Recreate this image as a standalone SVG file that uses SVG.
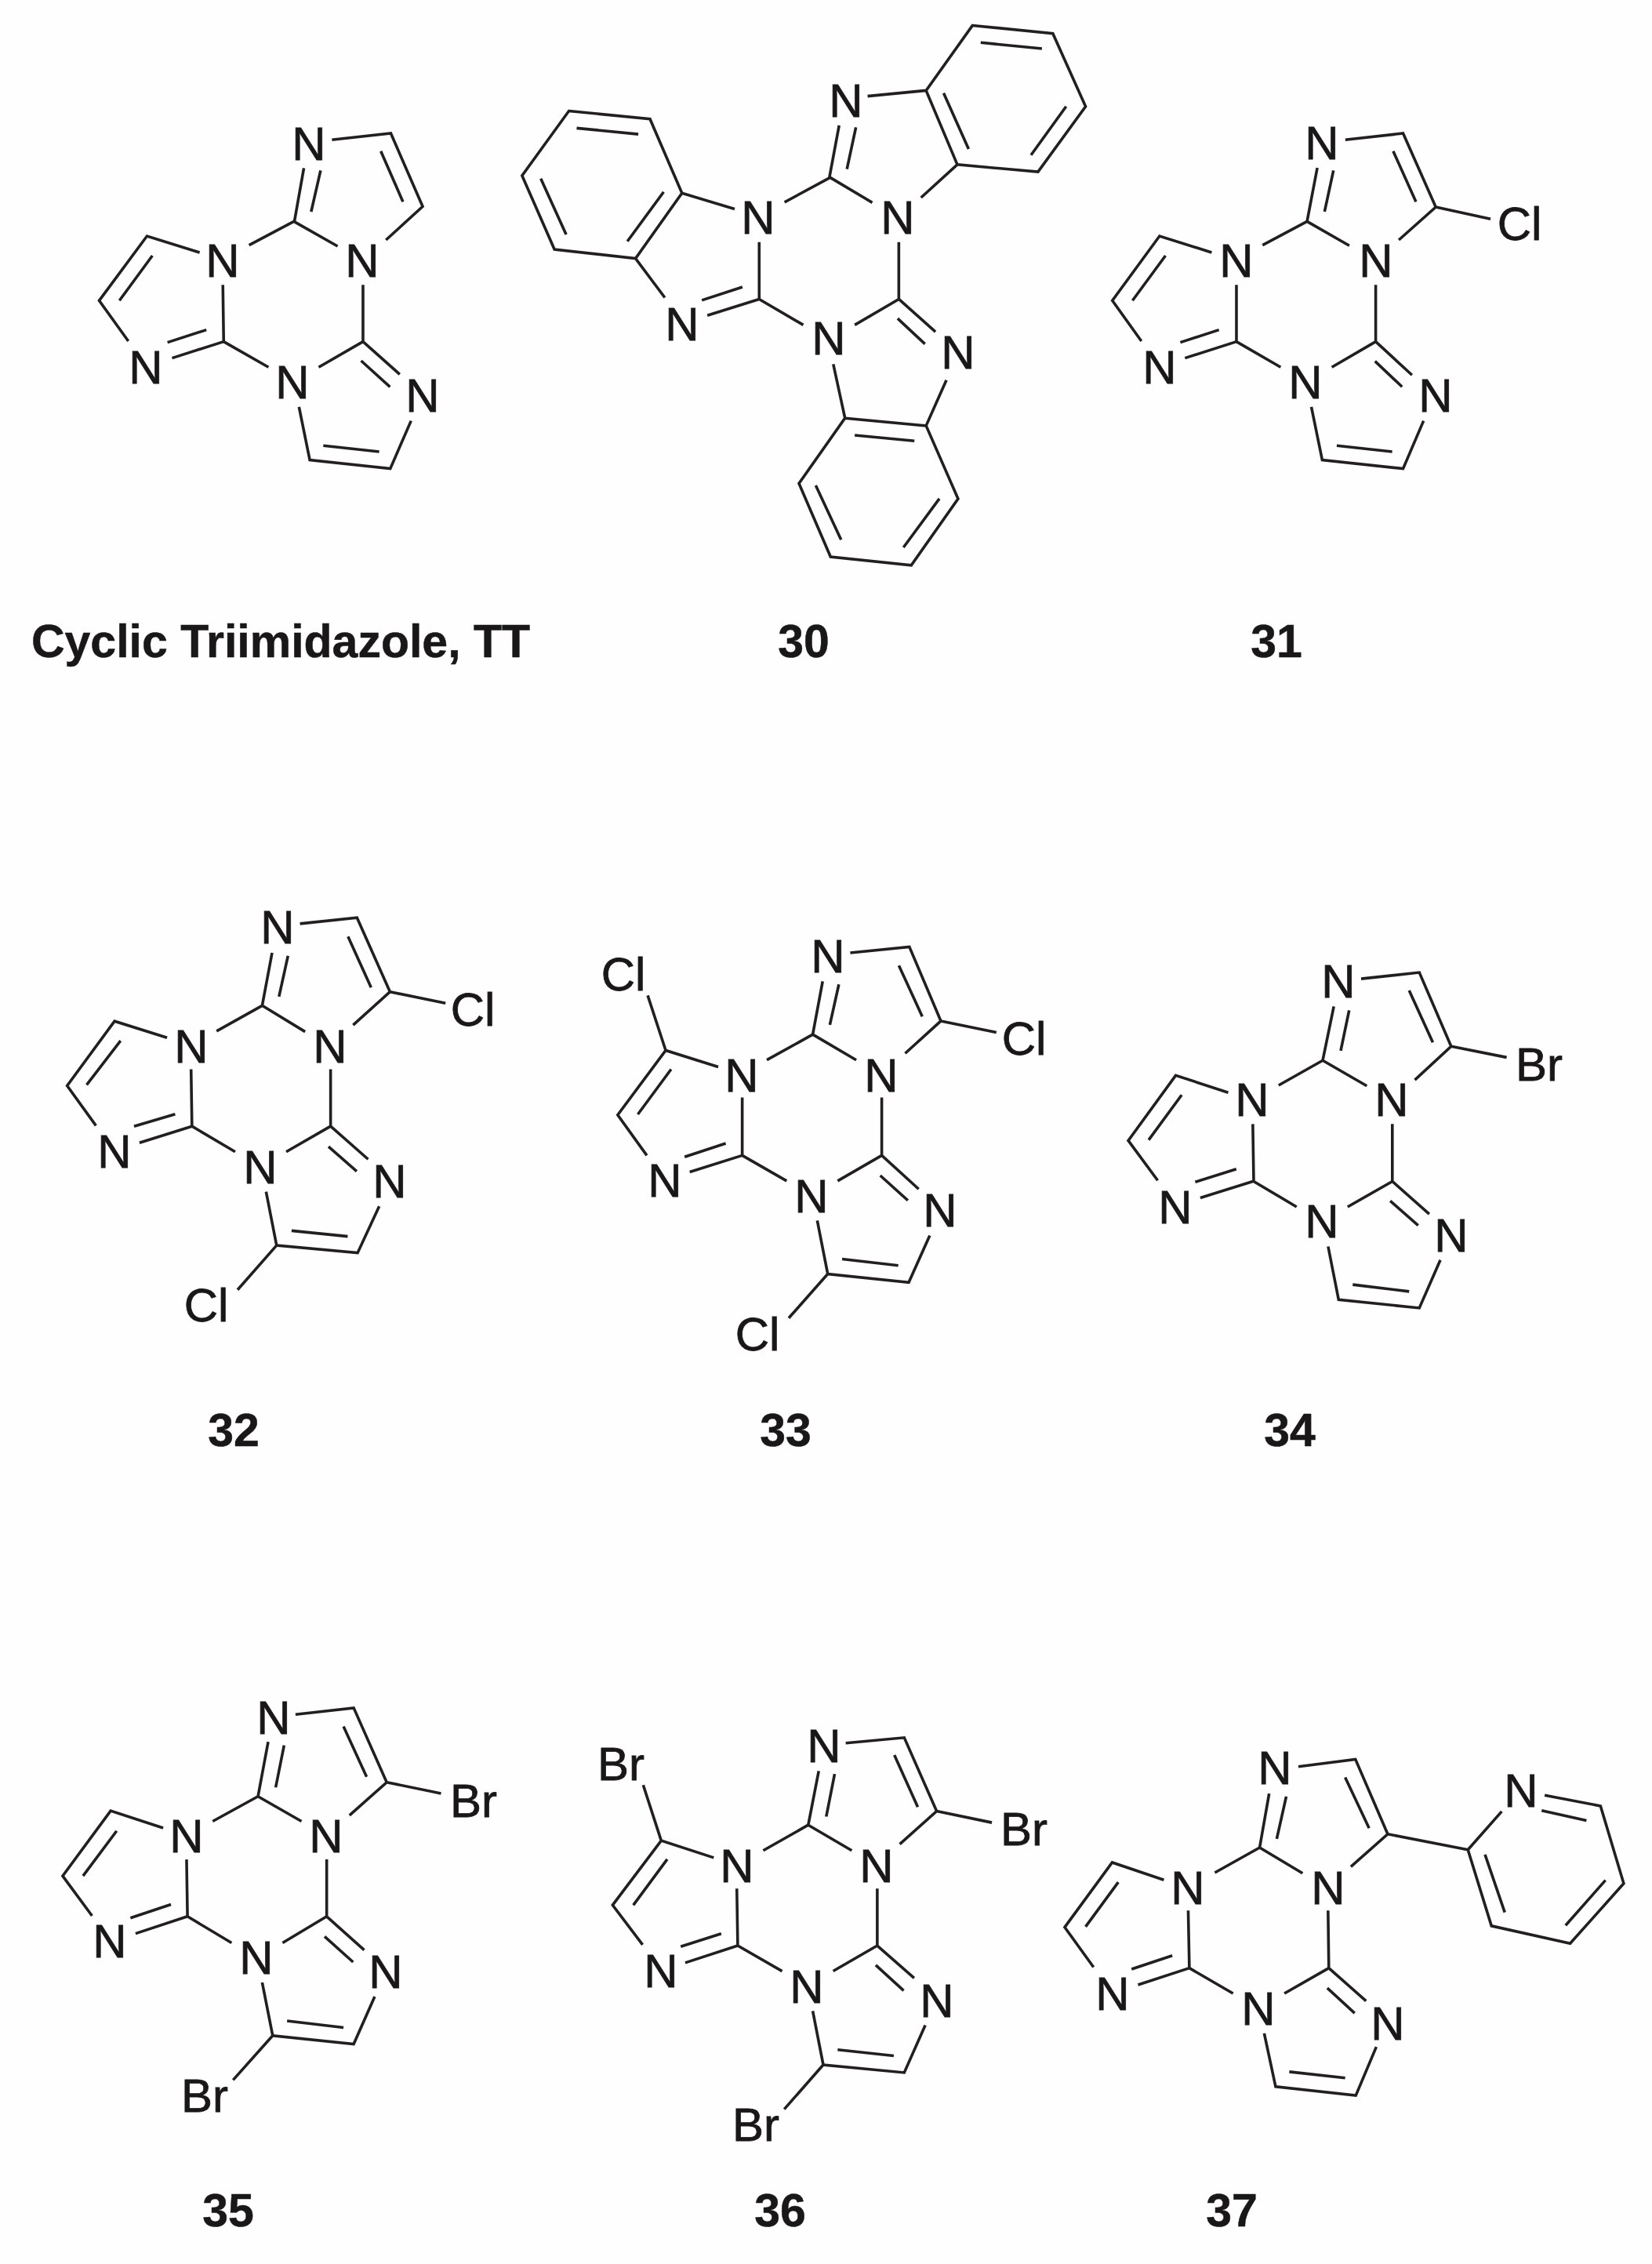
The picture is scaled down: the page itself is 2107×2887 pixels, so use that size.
<svg xmlns="http://www.w3.org/2000/svg" width="2107" height="2887" viewBox="0 0 2107 2887">
<style>
.b{fill:none;stroke:#231f20;stroke-width:3.6;stroke-linejoin:miter;vector-effect:non-scaling-stroke}
.a{font-family:"Liberation Sans",Arial,sans-serif;font-size:60px;fill:#1a1718;stroke:#1a1718;stroke-width:.8px;text-anchor:middle}
.l{font-family:"Liberation Sans",Arial,sans-serif;font-size:59px;font-weight:bold;fill:#1a1718;stroke:#1a1718;stroke-width:.5px;text-anchor:middle}
</style>
<rect width="2107" height="2887" fill="#fefefe"/>
<g id="mol-TT">
<path class="b" transform="translate(80 120) scale(.3444 .3333)" d="M893 283L858 487M955 292L920 450M997 175L1215 150L1333 430L1197 558M1178 218L1260 412M856 487L1018 582M856 487L690 578M507 606L312 543L135 790L243 945M332 618L210 790M405 1010L596 947M388 950L532 902M593 730L596 947L762 1045M948 1045L1112 947L1112 730M1112 947L1248 1072M1105 1020L1212 1120M1290 1250L1213 1433L915 1400L875 1197M1172 1368L965 1345"/>
<text class="a" x="394" y="204">N</text><text class="a" x="462" y="353">N</text><text class="a" x="284" y="353">N</text><text class="a" x="186" y="489">N</text><text class="a" x="373" y="508">N</text><text class="a" x="539" y="525">N</text>
<text class="l" x="358" y="838">Cyclic Triimidazole, TT</text>
</g>
<g id="mol-30">
<path class="b" transform="translate(640 0) scale(.4974 .4847)" d="M1207 67L1413 88L1497 280L1375 452L1168 433L1088 238L1207 67ZM1228 112L1385 128M1447 280L1357 408M1197 392L1133 245M938 253L1088 238M865 330L840 467M908 335L885 445M1168 433L1075 520M842 467L950 533M842 467L725 532M172 292L380 313L462 508L343 680L135 656L52 462L172 292ZM192 337L350 353M415 505L322 635M165 617L100 470M462 508L597 550M660 637L660 787M343 680L418 783M527 830L660 787M513 790L617 755M660 787L773 855M905 855L1018 787L1018 637M1018 787L1112 873M1015 838L1085 905M850 958L880 1100M1140 1000L1088 1120M880 1100L1088 1120L1170 1312L1050 1487L843 1465L762 1272L880 1100ZM905 1145L1058 1160M1122 1312L1030 1440M870 1420L805 1277"/>
<text class="a" x="1079" y="149">N</text><text class="a" x="1145" y="298">N</text><text class="a" x="967" y="298">N</text><text class="a" x="870" y="434">N</text><text class="a" x="1057" y="452">N</text><text class="a" x="1222" y="470">N</text>
<text class="l" x="1025" y="838">30</text>
</g>
<g id="mol-31">
<path class="b" transform="translate(1380 120) scale(.4209 .3333)" d="M713 282L682 487M762 292L735 450M798 175L973 150L1072 432L960 558M943 218L1012 412M1072 432L1238 478M682 487L810 580M682 487L547 578M393 606L235 543L92 790L180 945M253 618L153 790M312 1010L468 947M298 950L415 902M468 730L468 947L602 1045M757 1045L890 947L890 730M890 947L1000 1075M888 1022L970 1120M1035 1250L973 1433L728 1400L695 1197M940 1368L772 1345"/>
<text class="a" x="1686" y="203">N</text><text class="a" x="1755" y="353">N</text><text class="a" x="1577" y="353">N</text><text class="a" x="1479" y="489">N</text><text class="a" x="1665" y="508">N</text><text class="a" x="1831" y="525">N</text><text class="a" x="1938" y="306">Cl</text>
<text class="l" x="1628" y="838">31</text>
</g>
<g id="mol-32">
<path class="b" transform="translate(60 1130) scale(.3827)" d="M750 222L717 398M803 232L773 368M843 125L1033 105L1143 352L1020 463M1003 168L1080 338M1143 352L1328 390M717 398L860 485M717 398L565 483M400 505L225 450L67 665L163 798M245 515L132 662M308 855L483 800M290 800L427 760M480 610L483 800L627 885M797 885L945 800L945 610M945 800L1070 910M938 868L1032 950M1107 1067L1035 1222L765 1197L730 1018M1002 1167L815 1148M765 1197L635 1345"/>
<text class="a" x="354" y="1203">N</text><text class="a" x="421" y="1355">N</text><text class="a" x="244" y="1355">N</text><text class="a" x="146" y="1489">N</text><text class="a" x="332" y="1509">N</text><text class="a" x="497" y="1527">N</text><text class="a" x="603" y="1308">Cl</text><text class="a" x="263" y="1685">Cl</text>
<text class="l" x="298" y="1844">32</text>
</g>
<g id="mol-33">
<path class="b" transform="translate(740 1150) scale(.3827)" d="M808 265L775 442M862 275L832 410M900 170L1097 150L1202 397L1083 505M1062 212L1140 382M1202 397L1387 435M775 442L920 527M775 442L622 527M460 550L285 495L125 710L222 845M303 558L192 708M365 900L540 845M348 850L485 805M540 652L540 845L688 930M858 930L1005 845L1005 652M1005 845L1128 957M1000 912L1092 995M1165 1112L1095 1268L825 1240L790 1062M1060 1212L873 1190M285 495L225 312M825 1240L695 1387"/>
<text class="a" x="1056" y="1240">N</text><text class="a" x="1124" y="1392">N</text><text class="a" x="946" y="1392">N</text><text class="a" x="848" y="1526">N</text><text class="a" x="1035" y="1546">N</text><text class="a" x="1199" y="1564">N</text><text class="a" x="795" y="1263">Cl</text><text class="a" x="1306" y="1345">Cl</text><text class="a" x="966" y="1722">Cl</text>
<text class="l" x="1002" y="1844">33</text>
</g>
<g id="mol-34">
<path class="b" transform="translate(1400 1180) scale(.3827)" d="M787 270L750 450M838 283L810 418M878 178L1072 157L1178 403L1057 515M1038 217L1117 390M1178 403L1363 440M750 450L897 535M750 450L603 533M435 557L260 500L102 717L200 850M280 565L170 715M342 908L517 853M325 855L462 812M517 662L520 853L663 938M833 938L982 853L982 662M982 853L1105 962M975 918L1068 1000M1142 1115L1072 1275L803 1247L768 1070M1038 1220L850 1197"/>
<text class="a" x="1707" y="1272">N</text><text class="a" x="1775" y="1423">N</text><text class="a" x="1597" y="1423">N</text><text class="a" x="1499" y="1560">N</text><text class="a" x="1686" y="1578">N</text><text class="a" x="1851" y="1596">N</text><text class="a" x="1963" y="1378">Br</text>
<text class="l" x="1645" y="1844">34</text>
</g>
<g id="mol-35">
<path class="b" transform="translate(60 2130) scale(.3827)" d="M737 238L703 420M790 250L762 390M828 147L1022 125L1132 373L1008 483M988 187L1065 355M1132 373L1313 410M703 420L848 503M703 420L552 503M387 525L212 468L52 685L150 818M232 535L120 685M295 877L468 820M278 825L413 780M465 630L468 820L615 908M785 908L932 820L932 630M932 820L1057 932M925 887L1020 972M1092 1087L1022 1245L752 1217L717 1040M988 1190L800 1168M752 1217L620 1365"/>
<text class="a" x="349" y="2211">N</text><text class="a" x="416" y="2362">N</text><text class="a" x="238" y="2362">N</text><text class="a" x="140" y="2496">N</text><text class="a" x="327" y="2517">N</text><text class="a" x="492" y="2535">N</text><text class="a" x="604" y="2317">Br</text><text class="a" x="261" y="2693">Br</text>
<text class="l" x="291" y="2839">35</text>
</g>
<g id="mol-36">
<path class="b" transform="translate(740 2150) scale(.3827)" d="M795 283L760 463M848 293L820 435M885 190L1080 172L1188 417L1065 527M1047 230L1125 403M1188 417L1372 455M760 463L905 548M760 463L610 548M445 572L270 515L108 730L208 862M290 577L177 730M350 922L525 865M335 868L470 825M522 675L525 865L673 950M843 950L990 865L990 675M990 865L1113 973M985 930L1078 1015M1150 1130L1080 1288L810 1262L775 1083M1045 1232L858 1212M270 515L210 330M810 1262L680 1410"/>
<text class="a" x="1051" y="2247">N</text><text class="a" x="1118" y="2400">N</text><text class="a" x="940" y="2400">N</text><text class="a" x="843" y="2534">N</text><text class="a" x="1029" y="2554">N</text><text class="a" x="1195" y="2572">N</text><text class="a" x="792" y="2270">Br</text><text class="a" x="1306" y="2353">Br</text><text class="a" x="964" y="2730">Br</text>
<text class="l" x="995" y="2839">36</text>
</g>
<g id="mol-37">
<path class="b" transform="translate(1340 2190) scale(.4847 .3444)" d="M575 282L550 482M620 293L595 450M652 182L802 155L887 432L790 553M775 222L838 410M887 432L1098 490M550 482L663 577M550 482L432 575M298 602L162 537L37 777L113 925M178 610L92 775M230 990L365 928M213 932L320 882M362 715L365 928L480 1022M615 1022L732 928L730 715M732 928L830 1050M728 1002L800 1095M857 1220L803 1400L592 1367L562 1170M775 1335L628 1312M1098 490L1187 348M1300 288L1447 328L1508 615L1367 837L1160 772L1098 490M1292 345L1410 382M1460 603L1355 770M1195 722L1143 508"/>
<text class="a" x="1626" y="2275">N</text><text class="a" x="1694" y="2428">N</text><text class="a" x="1515" y="2428">N</text><text class="a" x="1419" y="2563">N</text><text class="a" x="1605" y="2582">N</text><text class="a" x="1770" y="2601">N</text><text class="a" x="1940" y="2304">N</text>
<text class="l" x="1571" y="2839">37</text>
</g>
</svg>
